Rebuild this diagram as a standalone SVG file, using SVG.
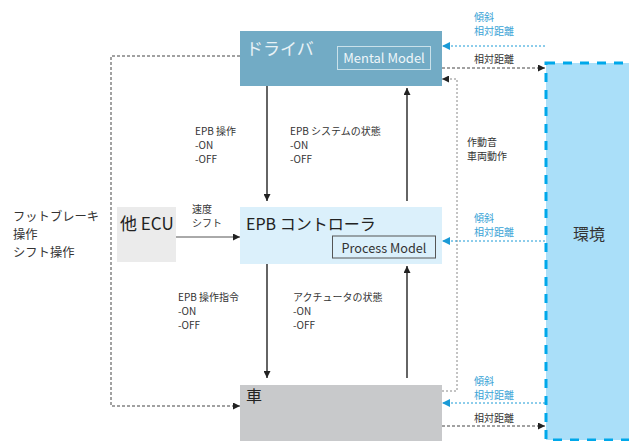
<svg xmlns="http://www.w3.org/2000/svg" width="629" height="441" viewBox="0 0 629 441">
<defs>
<marker id="ah" viewBox="0 0 10 10" refX="10" refY="5" markerWidth="7" markerHeight="7" markerUnits="userSpaceOnUse" orient="auto"><path d="M0,0 L10,5 L0,10 z" fill="#222"/></marker>
<marker id="ahb" viewBox="0 0 10 10" refX="10" refY="5" markerWidth="8" markerHeight="8" markerUnits="userSpaceOnUse" orient="auto"><path d="M0,0 L10,5 L0,10 z" fill="#1a9ad6"/></marker>
</defs>
<style>
text{font-family:"Noto Sans CJK JP","Noto Sans",sans-serif;}
.lbl{font-size:10px;fill:#333;}
.blbl{font-size:10px;fill:#3aa3d6;}
.solid{stroke:#111;stroke-width:1.3;fill:none;}
.dgrey{stroke:#444;stroke-width:1;stroke-dasharray:3 2;fill:none;}
.lgrey{stroke:#888;stroke-width:1;stroke-dasharray:2 2;fill:none;}
.dblue{stroke:#1a9ad6;stroke-width:1;stroke-dasharray:2 2;fill:none;}
</style>
<rect width="629" height="441" fill="#fff"/>
<g id="env">
<rect x="546" y="63" width="100" height="377" fill="#aadff9" stroke="#00a8ea" stroke-width="3" stroke-dasharray="9 8"/>
<text x="589" y="240" font-size="16" fill="#333" text-anchor="middle">環境</text>
</g>
<g id="driver">
<rect x="240" y="31" width="202" height="55" fill="#72abc5"/>
<text x="246" y="55" font-size="17" fill="#e8f2f6">ドライバ</text>
<rect x="337.5" y="46.5" width="93" height="23" fill="none" stroke="#c9e1ea" stroke-width="1"/>
<text x="384" y="63" font-size="13" fill="#eef6f9" text-anchor="middle" font-family="Noto Sans, sans-serif">Mental Model</text>
</g>
<g id="epb">
<rect x="240" y="207" width="202" height="57" fill="#dbf0fb"/>
<text x="246" y="230" font-size="16" fill="#222">EPB コントローラ</text>
<rect x="332.5" y="236" width="103" height="22" fill="none" stroke="#555" stroke-width="1"/>
<text x="384" y="252.5" font-size="12.7" fill="#333" text-anchor="middle" font-family="Noto Sans, sans-serif">Process Model</text>
</g>
<g id="ecu">
<rect x="117" y="207" width="59" height="55" fill="#ebebeb"/>
<text x="120" y="230" font-size="17" fill="#222">他 ECU</text>
</g>
<g id="car">
<rect x="240" y="385" width="202" height="56" fill="#c8c9cb"/>
<text x="246" y="402" font-size="16" fill="#222">車</text>
</g>
<g id="connectors">
<line class="solid" x1="267" y1="86" x2="267" y2="201" marker-end="url(#ah)"/>
<line class="solid" x1="407" y1="201" x2="407" y2="88" marker-end="url(#ah)"/>
<line class="solid" x1="267" y1="264" x2="267" y2="378" marker-end="url(#ah)"/>
<line class="solid" x1="407" y1="378" x2="407" y2="266" marker-end="url(#ah)"/>
<line x1="176" y1="237" x2="240" y2="237" stroke="#555" stroke-width="1" marker-end="url(#ah)"/>
<path class="dgrey" d="M240,56 H111 V406 H240" marker-end="url(#ah)"/>
<path class="lgrey" d="M442,391 H457 V79 H442" marker-end="url(#ah)"/>
<line class="dblue" x1="545" y1="46" x2="442" y2="46" marker-end="url(#ahb)"/>
<line class="dblue" x1="545" y1="241" x2="442" y2="241" marker-end="url(#ahb)"/>
<line class="dblue" x1="545" y1="403" x2="442" y2="403" marker-end="url(#ahb)"/>
<line class="dgrey" x1="442" y1="68" x2="545" y2="68" marker-end="url(#ah)"/>
<line class="dgrey" x1="442" y1="426" x2="545" y2="426" marker-end="url(#ah)"/>
</g>
<g id="labels">
<text class="lbl"><tspan x="195" y="135">EPB 操作</tspan><tspan x="195" y="149">-ON</tspan><tspan x="195" y="163">-OFF</tspan></text>
<text class="lbl"><tspan x="290" y="135">EPB システムの状態</tspan><tspan x="290" y="149">-ON</tspan><tspan x="290" y="163">-OFF</tspan></text>
<text class="lbl"><tspan x="467" y="146">作動音</tspan><tspan x="467" y="160">車両動作</tspan></text>
<text class="lbl"><tspan x="192" y="213">速度</tspan><tspan x="192" y="227">シフト</tspan></text>
<text font-size="12.3" fill="#333"><tspan x="13" y="221">フットブレーキ</tspan><tspan x="13" y="239">操作</tspan><tspan x="13" y="257">シフト操作</tspan></text>
<text class="lbl"><tspan x="178" y="301">EPB 操作指令</tspan><tspan x="178" y="315">-ON</tspan><tspan x="178" y="329">-OFF</tspan></text>
<text class="lbl"><tspan x="293" y="301">アクチュータの状態</tspan><tspan x="293" y="315">-ON</tspan><tspan x="293" y="329">-OFF</tspan></text>
<text class="blbl"><tspan x="474" y="21">傾斜</tspan><tspan x="474" y="35">相対距離</tspan></text>
<text class="lbl" x="474" y="63">相対距離</text>
<text class="blbl"><tspan x="474" y="222">傾斜</tspan><tspan x="474" y="236">相対距離</tspan></text>
<text class="blbl"><tspan x="474" y="385">傾斜</tspan><tspan x="474" y="399">相対距離</tspan></text>
<text class="lbl" x="474" y="422">相対距離</text>
</g>
</svg>
